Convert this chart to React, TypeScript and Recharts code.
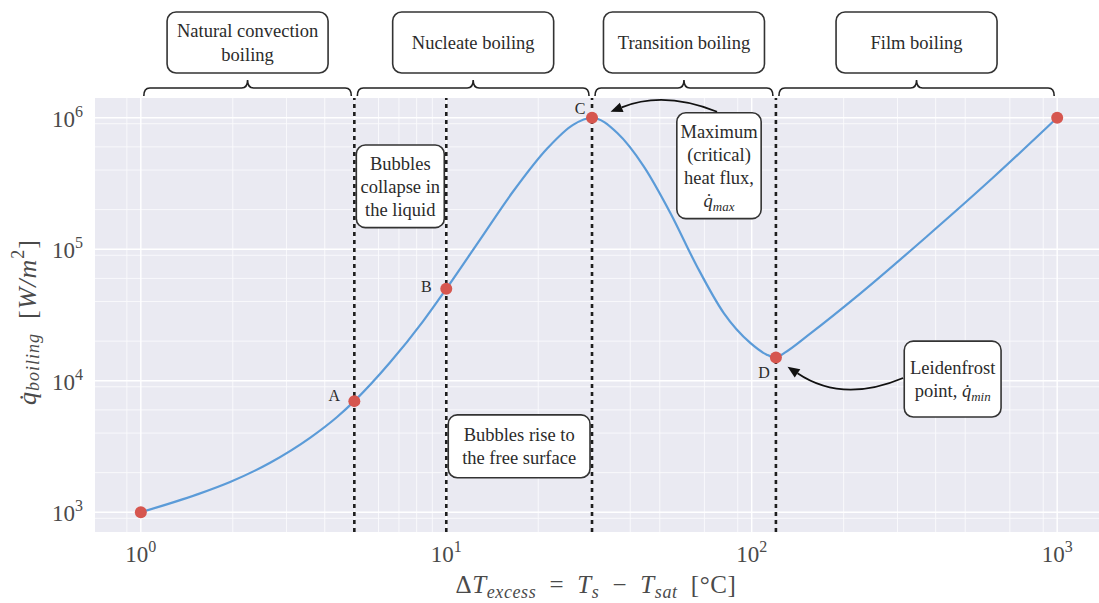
import React from 'react'
import {
  ComposedChart, Line, XAxis, YAxis, CartesianGrid,
  ReferenceLine, ReferenceArea,
} from 'recharts'

// boiling curve (excess temperature, heat flux)
const curveT = [1, 1.53, 1.96, 2.65, 3.58, 4.39, 5, 6.54, 8.39, 10, 12.9, 16.5, 21.4, 26, 30,
  36.3, 44.3, 54.2, 66.2, 81, 98.9, 112, 120, 128, 155, 226, 375, 617, 1000]
const curveQ = [1000, 1368, 1700, 2380, 3680, 5300, 7000, 13750, 28300, 50000, 118500, 272300, 583200, 883100, 1000000,
  765000, 427000, 188000, 74000, 32700, 19400, 15800, 15000, 16300, 22730, 45800, 125600, 351000, 1000000]

// marked points
const pointT = [1, 5, 10, 30, 120, 1000]
const pointQ = [1e3, 7e3, 5e4, 1e6, 1.5e4, 1e6]
const pointNames = ['', 'A', 'B', 'C', 'D', '']

// boiling regimes
const regimeNames = [['Natural convection', 'boiling'], ['Nucleate boiling'], ['Transition boiling'], ['Film boiling']]
const regimeStart = [1, 5, 30, 120]
const regimeEnd = [5, 30, 120, 1000]
const boundaries = [5, 10, 30, 120]

// text notes inside the plot
const noteText = [
  ['Bubbles', 'collapse in', 'the liquid'],
  ['Bubbles rise to', 'the free surface'],
  ['Maximum', '(critical)', 'heat flux,', '$q̇_max$'],
  ['Leidenfrost', 'point, $q̇_min$'],
]
const noteT1 = [5, 10, 56, 311]
const noteT2 = [10, 30, 109, 665]
const noteQ1 = [6.2e5, 5.5e3, 1.09e6, 2.0e4]
const noteQ2 = [1.46e5, 1.83e3, 1.71e5, 5.3e3]

// arrows from notes to points
const arrowT1 = [77, 313]
const arrowQ1 = [1.11e6, 1.05e4]
const arrowT2 = [34.5, 131]
const arrowQ2 = [1.11e6, 1.28e4]
const arrowBend = [0.2, -0.27]

const xTicks = [1, 10, 100, 1000]
const yTicks = [1e3, 1e4, 1e5, 1e6]
const mantissas = [2, 3, 4, 5, 6, 7, 8, 9]

const X_MIN = 0.7079, X_MAX = 1412.5
const Y_MIN = 707.9, Y_MAX = 1.4125e6

const xMinor = [0.1, 1, 10, 100, 1000].flatMap(d => mantissas.map(m => m * d)).filter(v => v > X_MIN && v < X_MAX)
const yMinor = [100, 1e3, 1e4, 1e5, 1e6].flatMap(d => mantissas.map(m => m * d)).filter(v => v > Y_MIN && v < Y_MAX)

const curveData = curveT.map((t, i) => ({ t, q: curveQ[i] }))
const pointData = pointT.map((t, i) => ({ t, q: pointQ[i], name: pointNames[i] }))

const SERIF = '"Liberation Serif", "DejaVu Serif", serif'
const INK = '#2b2b2b'
const GREY = '#4a4a4a'
const BOX_FONT = 18.5

const labelShift: Record<string, [number, number]> = {
  A: [-20, -6], B: [-20, -2], C: [-12, -9], D: [-12, 15],
}

// '$q̇_max$' -> italic q with italic subscript
function rich(line: string) {
  const parts = line.split('$')
  const out: React.ReactNode[] = []
  parts.forEach((p, i) => {
    if (!p) return
    if (i % 2 === 0) { out.push(<tspan key={i}>{p}</tspan>); return }
    const [base, sub] = p.split('_')
    out.push(<tspan key={i + 'b'} fontStyle="italic">{base}</tspan>)
    if (sub) out.push(<tspan key={i + 's'} fontStyle="italic" fontSize="0.7em" dy={4}>{sub}</tspan>)
  })
  return out
}

function noteShape(p: any, lines: string[]) {
  const { x, y, width, height } = p
  const lh = 23
  const top = y + height / 2 - (lines.length - 1) * lh / 2
  return (
    <g>
      <rect x={x + 2} y={y} width={width - 4} height={height} rx={9}
        fill="#fff" stroke="#333" strokeWidth={1.6} />
      {lines.map((l, i) => (
        <text key={i} x={x + width / 2} y={top + i * lh} dy="0.35em" textAnchor="middle"
          fontFamily={SERIF} fontSize={BOX_FONT} fill={INK}>{rich(l)}</text>
      ))}
    </g>
  )
}

function regimeShape(p: any, lines: string[]) {
  const { x, y, width } = p
  const xl = x + 3, xr = x + width - 3, xc = x + width / 2
  const bar = y - 10, hook = y - 2, nub = y - 18
  const d = `M${xl},${hook} Q${xl},${bar} ${xl + 6},${bar} L${xc - 6},${bar} Q${xc},${bar} ${xc},${nub}`
    + ` Q${xc},${bar} ${xc + 6},${bar} L${xr - 6},${bar} Q${xr},${bar} ${xr},${hook}`
  const bw = 161, bh = 61, btop = y - 86
  const lh = 24
  const top = btop + bh / 2 - (lines.length - 1) * lh / 2
  return (
    <g>
      <path d={d} fill="none" stroke="#222" strokeWidth={1.6} />
      <rect x={xc - bw / 2} y={btop} width={bw} height={bh} rx={9} fill="#fff" stroke="#333" strokeWidth={1.6} />
      {lines.map((l, i) => (
        <text key={i} x={xc} y={top + i * lh} dy="0.35em" textAnchor="middle"
          fontFamily={SERIF} fontSize={BOX_FONT} fill={INK}>{l}</text>
      ))}
    </g>
  )
}

function arrowShape(p: any, bend: number) {
  const { x1, y1, x2, y2 } = p
  const dx = x2 - x1, dy = y2 - y1
  const cx = (x1 + x2) / 2 - bend * dy
  const cy = (y1 + y2) / 2 + bend * dx
  let ux = x2 - cx, uy = y2 - cy
  const n = Math.hypot(ux, uy) || 1
  ux /= n; uy /= n
  const bx = x2 - ux * 12, by = y2 - uy * 12
  const px = -uy * 5, py = ux * 5
  return (
    <g>
      <path d={`M${x1},${y1} Q${cx},${cy} ${bx},${by}`} fill="none" stroke="#111" strokeWidth={1.8} />
      <path d={`M${x2},${y2} L${bx + px},${by + py} L${bx - px},${by - py} Z`} fill="#111" />
    </g>
  )
}

function XTick({ x, y, payload }: any) {
  const e = Math.round(Math.log10(payload.value))
  return (
    <text x={x} y={y + 30} textAnchor="middle" fontFamily={SERIF} fontSize={23} fill={GREY}>
      10<tspan dy={-10} fontSize={16}>{e}</tspan>
    </text>
  )
}

function YTick({ x, y, payload }: any) {
  const e = Math.round(Math.log10(payload.value))
  return (
    <text x={x} y={y + 9} textAnchor="end" fontFamily={SERIF} fontSize={23} fill={GREY}>
      10<tspan dy={-10} fontSize={16}>{e}</tspan>
    </text>
  )
}

function XLabel({ viewBox }: any) {
  const cx = viewBox.x + viewBox.width / 2 - 3
  const sub = { fontStyle: 'italic' as const, fontSize: 18 }
  return (
    <text x={cx} y={viewBox.y + 61} textAnchor="middle" fontFamily={SERIF} fontSize={25} fill={GREY}
      letterSpacing={0.6}>
      <tspan>Δ</tspan><tspan fontStyle="italic">T</tspan>
      <tspan {...sub} dy={5}>excess</tspan>
      <tspan dy={-5}>{'\u2002=\u2002'}</tspan><tspan fontStyle="italic">T</tspan>
      <tspan {...sub} dy={5}>s</tspan>
      <tspan dy={-5}>{'\u2002−\u2002'}</tspan><tspan fontStyle="italic">T</tspan>
      <tspan {...sub} dy={5}>sat</tspan>
      <tspan dy={-5}>{'\u2002[°C]'}</tspan>
    </text>
  )
}

function YLabel({ viewBox }: any) {
  const cx = viewBox.x - 5
  const cy = viewBox.y + viewBox.height / 2 + 7
  return (
    <text x={cx} y={cy} transform={`rotate(-90, ${cx}, ${cy})`} textAnchor="middle" dominantBaseline="middle"
      fontFamily={SERIF} fontSize={26} fill={GREY} letterSpacing={1}>
      <tspan fontStyle="italic">q̇</tspan>
      <tspan fontStyle="italic" fontSize={18} dy={5}>boiling</tspan>
      <tspan dy={-5}>{'\u2002['}</tspan><tspan fontStyle="italic">W/m</tspan>
      <tspan fontSize={18} dy={-10}>2</tspan>
      <tspan dy={10}>]</tspan>
    </text>
  )
}

function PointDot(p: any) {
  const { cx, cy, payload, index } = p
  const name = payload?.name
  const s = labelShift[name] ?? [0, 0]
  return (
    <g key={`pt-${index}`}>
      <circle cx={cx} cy={cy} r={6} fill="#d6564f" />
      {name && (
        <text x={cx + s[0]} y={cy + s[1]} dy="0.35em" textAnchor="middle"
          fontFamily={SERIF} fontSize={16} fill={INK}>{name}</text>
      )}
    </g>
  )
}

export default function App() {
  return (
    <div style={{ position: 'fixed', left: 0, top: 0, width: 1099, height: 603, overflow: 'hidden', background: '#fff' }}>
      <ComposedChart width={1110} height={603} margin={{ top: 98, right: 7, bottom: 21, left: 35 }}>
        <CartesianGrid fill="#eaeaf2" stroke="#fbfbfd" strokeWidth={0.9}
          verticalValues={xMinor} horizontalValues={yMinor} />
        <CartesianGrid fill="none" stroke="#ffffff" strokeWidth={1.4}
          verticalValues={xTicks} horizontalValues={yTicks} />
        <XAxis dataKey="t" type="number" scale="log" domain={[X_MIN, X_MAX]} allowDataOverflow
          ticks={xTicks} tick={<XTick />} axisLine={false} tickLine={false} tickSize={0} tickMargin={0}
          height={50} label={{ content: (p: any) => <XLabel viewBox={p.viewBox} /> }} />
        <YAxis dataKey="q" type="number" scale="log" domain={[Y_MIN, Y_MAX]} allowDataOverflow
          ticks={yTicks} tick={<YTick />} axisLine={false} tickLine={false} tickSize={0} tickMargin={12}
          width={60} label={{ content: (p: any) => <YLabel viewBox={p.viewBox} /> }} />

        {regimeNames.map((lines, i) => (
          <ReferenceArea key={`rg-${i}`} x1={regimeStart[i]} x2={regimeEnd[i]} ifOverflow="visible"
            shape={(p: any) => regimeShape(p, lines)} />
        ))}

        <Line data={curveData} dataKey="q" type="monotone" stroke="#5b9bd8" strokeWidth={2.2}
          dot={false} activeDot={false} isAnimationActive={false} />
        <Line data={pointData} dataKey="q" stroke="none" dot={PointDot} activeDot={false}
          isAnimationActive={false} />

        {boundaries.map(b => (
          <ReferenceLine key={`b-${b}`} x={b} stroke="#1e1e1e" strokeWidth={2.6} strokeDasharray="4 4" />
        ))}

        {noteText.map((lines, i) => (
          <ReferenceArea key={`nt-${i}`} x1={noteT1[i]} x2={noteT2[i]} y1={noteQ1[i]} y2={noteQ2[i]}
            ifOverflow="visible" shape={(p: any) => noteShape(p, lines)} />
        ))}

        {arrowT1.map((_, i) => (
          <ReferenceLine key={`ar-${i}`} ifOverflow="visible"
            segment={[{ x: arrowT1[i], y: arrowQ1[i] }, { x: arrowT2[i], y: arrowQ2[i] }]}
            shape={(p: any) => arrowShape(p, arrowBend[i])} />
        ))}
      </ComposedChart>
    </div>
  )
}
